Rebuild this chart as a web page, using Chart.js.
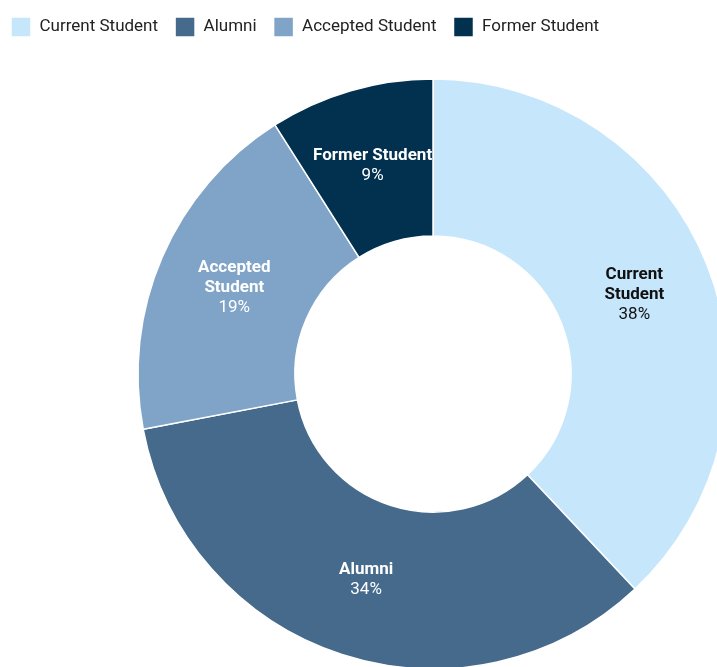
<!DOCTYPE html>
<html>
<head>
<meta charset="utf-8">
<script src="https://cdn.jsdelivr.net/npm/chart.js@4"></script>
<style>
  html, body { margin:0; padding:0; background:#fff; overflow:hidden; }
  #wrap { position:absolute; left:-6px; top:0; }
</style>
</head>
<body>
<div id="wrap"><canvas id="studentChart" width="878" height="701"></canvas></div>
<script>
const categories = ['Current Student', 'Alumni', 'Accepted Student', 'Former Student'];
const shares = [38, 34, 19, 9];
const sliceLabels = [['Current', 'Student'], ['Alumni'], ['Accepted', 'Student'], ['Former Student']];
const colors = ['#c6e6fc', '#456a8b', '#80a4c8', '#01314f'];
const labelColors = ['#111111', '#ffffff', '#ffffff', '#ffffff'];

// labels drawn in the middle of each ring segment
const sliceText = {
  id: 'sliceText',
  afterDatasetsDraw(chart) {
    const ctx = chart.ctx;
    const meta = chart.getDatasetMeta(0);
    ctx.save();
    ctx.textAlign = 'center';
    ctx.textBaseline = 'middle';
    meta.data.forEach((arc, i) => {
      const p = arc.getCenterPoint();
      const lines = sliceLabels[i].concat([shares[i] + '%']);
      const lh = 20;
      let y = p.y - (lines.length - 1) * lh / 2;
      ctx.fillStyle = labelColors[i];
      lines.forEach((t, j) => {
        const last = j === lines.length - 1;
        ctx.font = (last ? '400' : '700') + ' 17px Roboto';
        ctx.fillText(t, p.x, y + j * lh);
      });
    });
    ctx.restore();
  }
};

new Chart(document.getElementById('studentChart'), {
  type: 'doughnut',
  data: {
    labels: categories,
    datasets: [{
      data: shares,
      backgroundColor: colors,
      borderColor: '#ffffff',
      borderWidth: 1.5,
      radius: 295,
      cutout: '46.8%'
    }]
  },
  options: {
    responsive: false,
    animation: false,
    layout: { padding: 0 },
    plugins: {
      legend: {
        display: true,
        position: 'top',
        align: 'start',
        labels: { boxWidth: 20, boxHeight: 20, padding: 17, color: '#222', font: { family: 'Roboto', size: 17 } }
      },
      tooltip: { enabled: false }
    }
  },
  plugins: [sliceText]
});
</script>
</body>
</html>
